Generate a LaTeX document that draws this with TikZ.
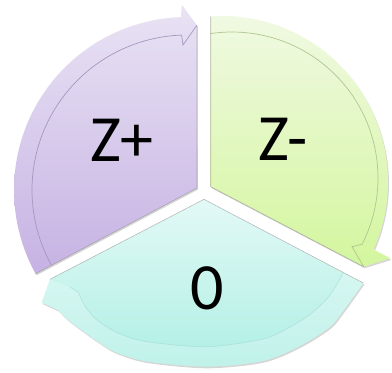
\documentclass[tikz,border=0pt]{standalone}
\usepackage{fontspec}
\setmainfont{Carlito}
\definecolor{purpleTop}{HTML}{E9E3F4}
\definecolor{purpleBot}{HTML}{C6B2E3}
\definecolor{greenTop}{HTML}{F0F9E2}
\definecolor{greenBot}{HTML}{D4F69E}
\definecolor{tealTop}{HTML}{E3F9F6}
\definecolor{tealBot}{HTML}{AEEFE4}
\definecolor{purpleLine}{HTML}{A597BF}
\definecolor{greenLine}{HTML}{B0C792}
\definecolor{tealLine}{HTML}{A6DDD4}
\tikzset{
  purpleshape/.style={insert path={(197,188) -- (35.7,273.7) -- plot[domain=151:268,samples=90] ({187+173*cos(\x)},{190+173*sin(\x)}) -- (181.8,5.1) -- (196.8,25.3) -- cycle}},
  greenshape/.style={insert path={(210.7,186.7) -- (210.7,16.4) -- plot[domain=266:384,samples=90] ({222+166*cos(\x)},{182+166*sin(\x)}) -- (390.3,258.3) -- (363.7,266.7) -- cycle}},
  tealshape/.style={insert path={(204,199.3) -- (363.3,283) -- plot[smooth] coordinates {(363.3,283) (357,292) (344,310) (330,327) (300,346) (263,361) (207,366.7) (147,361.5) (115,352) (97,341) (80,329) (67,319) (58,310)} -- (41.7,302.5) -- (50,279.3) -- cycle}},
  tealinner/.style={insert path={(204,199.3) -- (343,273) -- plot[smooth] coordinates {(343,273) (330,295) (313,312) (290,327) (263,339) (207,346.7) (147,341.7) (118,333) (97,320) (85,306) (78,292)} -- (70,287) -- (50,279.3) -- cycle}},
  shadowfill/.style={fill=black, opacity=0.16},
  edgeline/.style={draw=black!50, line width=0.6pt, opacity=0.5},
  thinline/.style={line width=0.7pt},
  lbl/.style={font=\fontsize{66}{66}\selectfont, inner sep=0pt, text=black}
}
\begin{document}
\begin{tikzpicture}[x=1pt,y=-1pt]
\fill[white] (0,0) rectangle (392,373);
\useasboundingbox (0,0) rectangle (392,373);
% shadows
\begin{scope}[shift={(1,1.6)}]
  \fill[shadowfill, purpleshape];
  \fill[shadowfill, greenshape];
  \fill[shadowfill, tealshape];
\end{scope}
% purple segment
\shade[top color=purpleTop, bottom color=purpleBot, purpleshape];
\draw[purpleLine, thinline] plot[domain=151:268,samples=80] ({187+155*cos(\x)},{190+155*sin(\x)}) -- (183,45) -- (196.8,25.3);
\draw[edgeline] (35.7,273.7) -- (197,188) -- (196.8,25.3);
% green segment
\shade[top color=greenTop, bottom color=greenBot, greenshape];
\draw[greenLine, thinline] plot[domain=261.6:387,samples=80] ({232+146*cos(\x)},{178+146*sin(\x)}) -- (352,246.7) -- (363.7,266.7);
\draw[edgeline] (210.7,16.4) -- (210.7,186.7) -- (363.7,266.7);
% teal segment
\shade[top color=tealTop, bottom color=tealBot, tealshape];
\fill[white, opacity=0.22, even odd rule, tealshape, tealinner];
\draw[tealLine, thinline, opacity=0.7] plot[smooth] coordinates {(343,273) (330,295) (313,312) (290,327) (263,339) (207,346.7) (147,341.7) (118,333) (97,320) (85,306) (78,292)} -- (70,287);
\draw[edgeline] (363.3,283) -- (204,199.3) -- (50,279.3);
% labels
\node[lbl] (zplus) at (122,140) {Z+};
\node[lbl] (zminus) at (283,139) {Z-};
\node[lbl] (zero) at (207.5,288) {0};
\end{tikzpicture}
\end{document}
